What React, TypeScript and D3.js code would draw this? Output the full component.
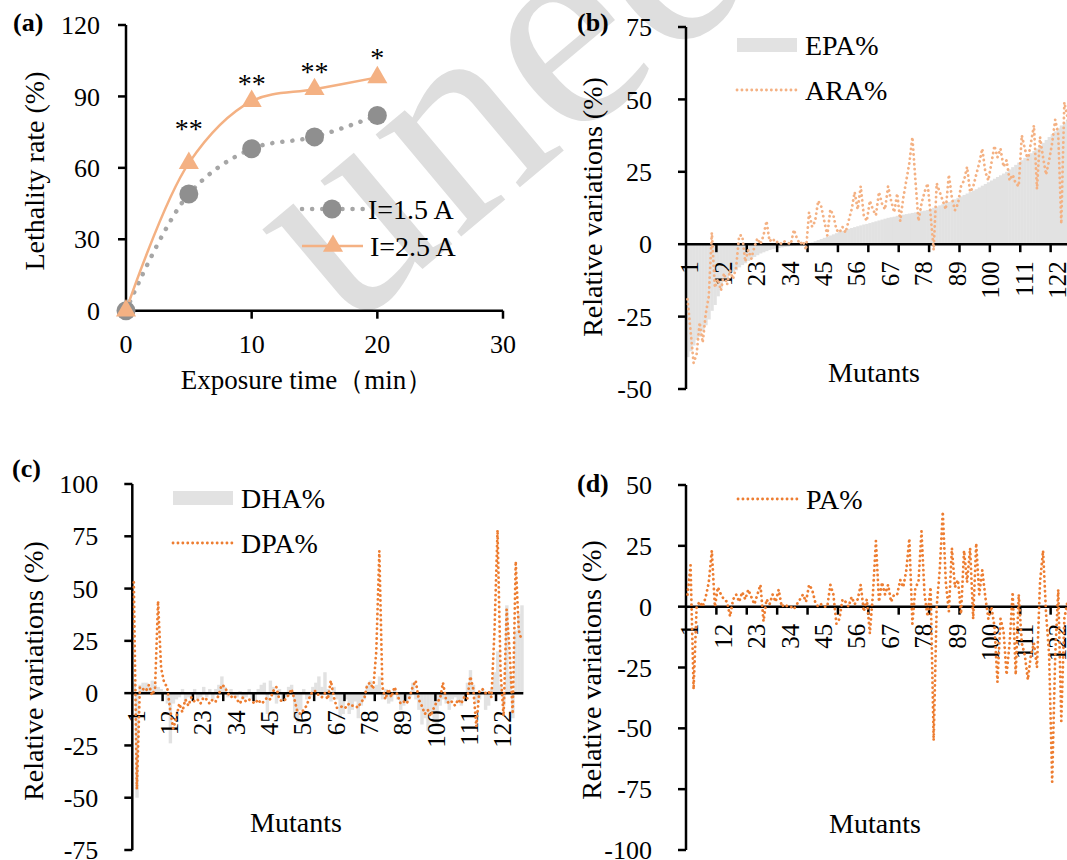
import React, { useEffect, useRef } from 'react';
import * as d3 from 'd3';

// (a) lethality rate vs exposure time
const exposureTimes = [0, 5, 10, 15, 20];
const lethal15 = [0, 49, 68, 73, 82];
const lethal25 = [0, 62, 88, 93, 98];
const starMarks = ['', '**', '**', '**', '*'];
const starLevels = [0, 78, 97, 102, 108];
const timeTicks = [0, 10, 20, 30];
const rateTicks = [0, 30, 60, 90, 120];

// (b)-(d) relative variations of 129 mutants
const mutantLabels = ['1', '12', '23', '34', '45', '56', '67', '78', '89', '100', '111', '122'];

const epa = [
  -39, -37, -35, -33, -32, -30, -28, -26, -23, -21,
  -18, -15, -13, -12, -10.5, -9.5, -9, -8, -7.2, -6.6,
  -5.8, -5, -4.4, -3.8, -3.2, -2.8, -2.4, -2, -1.7, -1.5,
  -1.3, -1.1, -0.9, -0.8, -0.6, -0.5, -0.4, -0.3, -0.2, -0.1,
  0.2, 0.6, 1, 1.4, 1.8, 2.2, 2.6, 3, 3.4, 3.8,
  4.2, 4.6, 5, 5.3, 5.6, 5.9, 6.2, 6.5, 6.8, 7,
  7.3, 7.6, 7.9, 8.2, 8.5, 8.8, 9.1, 9.3, 9.5, 9.8,
  10, 10.2, 10.4, 10.6, 10.8, 11, 11.2, 11.4, 11.6, 11.8,
  12.2, 12.6, 13, 13.4, 13.8, 14.2, 14.6, 15, 15.5, 16,
  16.5, 17, 17.5, 18, 18.5, 19, 19.6, 20.2, 20.8, 21.4,
  22, 22.6, 23.2, 23.8, 24.4, 25, 25.8, 26.6, 27.4, 28.2,
  29, 29.8, 30.6, 31.4, 32.2, 33, 34, 35, 36, 37,
  38, 39, 40, 41, 42, 43, 44, 45, 46,
];

const ara = [
  -19, -30, -41, -38, -27, -34, -24, -18, 4, -15,
  -12, -16, -10, -14, -9, -12, -8, 3, 3, -6,
  -2, -5, -1, 2, 0, 3, 8, 1, 2, 0.5,
  1, 0, 1, 0.5, 0, 5, 2, 0, 1, -2,
  11, 6, 8, 15, 13, 8, 3, 12, 10, 5,
  4, 6, 4, 8, 12, 18, 12, 20, 10, 8,
  15, 12, 10, 18, 14, 12, 20, 15, 11, 17.5,
  8, 16, 22, 28, 37, 22, 8, 14, 18, 21,
  10, -2, 21, 18, 15, 12, 24, 16, 11.7, 14,
  20, 22, 26.7, 18, 19.8, 24, 28, 33, 25, 22,
  28, 34, 30, 33, 26.7, 29, 22, 24, 21, 20,
  37.6, 33, 29, 35, 41, 19, 37, 30, 24, 29,
  35, 43, 38, 7, 49, 44, 38, 42, 45,
];

const dha = [
  5, -50, 4, 5, 5, 3, 6, 4, 3, 2,
  1, -5, -24, -5, -3, -2, 2, -4, -2, -3,
  2, -3, -2, 3, -2, 2, -3, 2, 4, 8,
  3, -2, 2, -1, -2, 1, -3, -2, 2, -3,
  -4, 2, 4, 5, -10, 6, 3, -5, 2, -3,
  -2, 3, 4, -12, -14, -8, 2, -3, -2, 3,
  5, 8, 3, 10, 2, -4, 3, -3, -12, -10,
  -3, -10, -8, -4, -12, -6, -3, 4, 6, 2,
  4, 8, -3, 2, -5, -4, 2, -3, -8, -6,
  -4, -2, 5, -3, -8, -15, -12, -18, -10, -14,
  -16, -6, -3, -5, -8, -3, -2, -4, -6, -3,
  5, 11, 4, -5, -3, 2, -8, -6, 2, 10,
  20, 4, -6, 42, 10, -12, 30, 38, 42,
];

const dpa = [
  53, -46, 3, 2, 1, 4, -1, 2, 44, 12,
  5, 3, -8, -17, -12, -5, -9, -3, -6, -2,
  -4, -3, -5, -2, -3, -5, -3, -4, -1, 4,
  3, 0, -2, -1, -3, -5, -2, -4, -3, -4,
  -5, -3, -5, -4, -2, -3, 1, 3, -3, -4,
  -3, -1, 2, -3, -9, -10, -8, -6, -2, 1,
  1, -1, -2, 0, -3, 6, -2, -7, -7, -6,
  -7, -5, -6, -6, -7, -4, -3, 4, 5, 2,
  20, 68, 3, -3, 2, -2, 3, -1, -5, -4,
  -5, -2, 3, 6, -3, -6, -10, -8, -11, -7,
  -4, -3, 5, -3, -5, -4, -6, -3, -5, -2,
  -3, 8, 2, -16, 1, 2, 0, 1, -2, 30,
  78, 10, -11, 40, 20, -10, 63, 30, 25,
];

const pa = [
  5, 17, -34, 0, 2, 0, 4, 10, 23, 0,
  8, 5, 3, 2, -4, 3, 5, 2, 6, 3,
  7, 4, 1, 5, 9, -6, 3, 1, 5, 2,
  7, 0, 1, 0, 0, -1, 1, 3, 5, 2,
  9, 7, 2, 0, 1, 0, 0, 9, 5, -7,
  -5, 3, 2, 0, 4, 1, 3, 9, -2, 3,
  -11, 5, 27, 2, 10, 5, 9, 2, 5, 5,
  11, 8, 15, 28, -7, 8, 10, 31, 5, -4,
  8, -55, 0, 15, 39, 10, -2, 24, 8, 11,
  -3, 23, 10, 24, -5, 26, 5, 15, 4, -5,
  0, -8, -31, -5, -10, -28, -15, 6, -28, 5,
  -15, -20, -30, -20, -15, -25, 10, 23, -3, -20,
  -72, -20, 7, -47, -5, 2, -15, -10, -5,
];

const mutants = epa.map((_, i) => i + 1);

const FONT = "'Liberation Serif', 'Times New Roman', serif";
const LIGHT = '#f4b183';
const DARK = '#ed7d31';
const GREY = '#e2e2e2';
const DOTS = '0.1 4.8';

function axisText(g, x, y, s, size, anchor = 'middle') {
  return g.append('text')
    .attr('x', x).attr('y', y)
    .attr('text-anchor', anchor)
    .style('font-family', FONT)
    .attr('font-size', size)
    .attr('fill', '#000')
    .text(s);
}

function drawLethality(svg) {
  const g = svg.append('g');
  const x = d3.scaleLinear().domain([0, 30]).range([126, 503]);
  const y = d3.scaleLinear().domain([0, 120]).range([310.7, 25]);

  // axes
  g.append('line').attr('x1', x(0)).attr('x2', x(0)).attr('y1', y(120)).attr('y2', y(0))
    .attr('stroke', '#000').attr('stroke-width', 2.5);
  g.append('line').attr('x1', x(0)).attr('x2', x(30)).attr('y1', y(0)).attr('y2', y(0))
    .attr('stroke', '#000').attr('stroke-width', 2.5);
  rateTicks.forEach(t => {
    g.append('line').attr('x1', x(0) - 8).attr('x2', x(0)).attr('y1', y(t)).attr('y2', y(t))
      .attr('stroke', '#000').attr('stroke-width', 2.5);
    axisText(g, 100, y(t), String(t), 26, 'end').attr('dy', '0.35em');
  });
  timeTicks.forEach(t => {
    g.append('line').attr('x1', x(t)).attr('x2', x(t)).attr('y1', y(0)).attr('y2', y(0) + 8)
      .attr('stroke', '#000').attr('stroke-width', 2.5);
    axisText(g, x(t), 353, String(t), 26);
  });
  axisText(g, 307, 389, 'Exposure time（min）', 27);
  axisText(g, 0, 0, 'Lethality rate (%)', 28)
    .attr('transform', 'translate(44,171) rotate(-90)');

  const line = d3.line<number>()
    .x((d, i) => x(exposureTimes[i]))
    .y(d => y(d))
    .curve(d3.curveCatmullRom.alpha(0.5));

  g.append('path').datum(lethal15).attr('d', line).attr('fill', 'none')
    .attr('stroke', '#a6a6a6').attr('stroke-width', 4.5)
    .attr('stroke-dasharray', '0.1 10').attr('stroke-linecap', 'round');
  g.append('path').datum(lethal25).attr('d', line).attr('fill', 'none')
    .attr('stroke', LIGHT).attr('stroke-width', 2.5);

  g.selectAll('circle.m15').data(lethal15).join('circle')
    .attr('cx', (d, i) => x(exposureTimes[i])).attr('cy', d => y(d))
    .attr('r', 9.5).attr('fill', '#8f8f8f');
  const tri = d3.symbol(d3.symbolTriangle, 175);
  g.selectAll('path.m25').data(lethal25).join('path')
    .attr('d', tri)
    .attr('transform', (d, i) => `translate(${x(exposureTimes[i])},${y(d)})`)
    .attr('fill', LIGHT);

  starMarks.forEach((s, i) => {
    if (!s) return;
    axisText(g, x(exposureTimes[i]), y(starLevels[i]) + 13, s, 28);
  });

  // legend
  g.append('line').attr('x1', 302).attr('x2', 363).attr('y1', 209).attr('y2', 209)
    .attr('stroke', '#a6a6a6').attr('stroke-width', 4.5)
    .attr('stroke-dasharray', '0.1 10').attr('stroke-linecap', 'round');
  g.append('circle').attr('cx', 332).attr('cy', 209).attr('r', 9.5).attr('fill', '#8f8f8f');
  axisText(g, 368, 209, 'I=1.5 A', 28, 'start').attr('dy', '0.35em');
  g.append('line').attr('x1', 302).attr('x2', 363).attr('y1', 246).attr('y2', 246)
    .attr('stroke', LIGHT).attr('stroke-width', 2.5);
  g.append('path').attr('d', tri).attr('transform', 'translate(333,246)').attr('fill', LIGHT);
  axisText(g, 370, 246, 'I=2.5 A', 28, 'start').attr('dy', '0.35em');

  axisText(g, 13, 31, '(a)', 26, 'start').attr('font-weight', 'bold');
}

function drawMutants(svg, c) {
  const g = svg.append('g');
  const x = d3.scaleBand<number>().domain(mutants).range([c.left, c.left + c.width]).padding(0);
  const y = d3.scaleLinear().domain(c.domain).range([c.bottom, c.top]);
  const y0 = y(0);

  if (c.bars) {
    g.append('g').selectAll('rect').data(c.bars).join('rect')
      .attr('x', (d, i) => x(mutants[i]))
      .attr('width', x.bandwidth() + 0.4)
      .attr('y', d => Math.min(y(d), y0))
      .attr('height', d => Math.abs(y(d) - y0))
      .attr('fill', GREY);
  }

  // y axis
  g.append('line').attr('x1', c.left).attr('x2', c.left).attr('y1', c.top).attr('y2', c.bottom)
    .attr('stroke', '#000').attr('stroke-width', 2.5);
  c.ticks.forEach(t => {
    g.append('line').attr('x1', c.left - 8).attr('x2', c.left).attr('y1', y(t)).attr('y2', y(t))
      .attr('stroke', '#000').attr('stroke-width', 2.5);
    axisText(g, c.left - 34, y(t), String(t), 26, 'end').attr('dy', '0.35em');
  });

  // x axis
  g.append('line').attr('x1', c.left).attr('x2', c.left + c.width).attr('y1', y0).attr('y2', y0)
    .attr('stroke', '#000').attr('stroke-width', 2.5);
  d3.range(10, mutants.length, 10).forEach(k => {
    const xx = c.left + k * x.step();
    g.append('line').attr('x1', xx).attr('x2', xx).attr('y1', y0).attr('y2', y0 + 8)
      .attr('stroke', '#000').attr('stroke-width', 2.5);
  });
  mutantLabels.forEach(l => {
    const xx = x(Number(l)) + x.bandwidth() / 2 + 2;
    axisText(g, 0, 0, l, 25, 'end').attr('dy', '0.35em')
      .attr('transform', `translate(${xx},${y0 + 17}) rotate(-90)`);
  });

  const line = d3.line<number>()
    .x((d, i) => x(mutants[i]) + x.bandwidth() / 2)
    .y(d => y(d));
  g.append('path').datum(c.line).attr('d', line).attr('fill', 'none')
    .attr('stroke', c.color).attr('stroke-width', 2.8)
    .attr('stroke-dasharray', DOTS).attr('stroke-linecap', 'round');

  // titles
  axisText(g, c.mutantsX, c.mutantsY, 'Mutants', 28);
  axisText(g, 0, 0, 'Relative variations (%)', 28)
    .attr('transform', `translate(${c.titleX},${c.titleY}) rotate(-90)`);
  axisText(g, c.tagX, c.tagY, c.tag, 26, 'start').attr('font-weight', 'bold');

  // legend
  let ly = c.legendY;
  if (c.barName) {
    g.append('rect').attr('x', c.legendX).attr('y', ly - 7).attr('width', 60).attr('height', 14)
      .attr('fill', GREY);
    axisText(g, c.legendX + 68, ly, c.barName, 28, 'start').attr('dy', '0.35em');
    ly += 45;
  }
  g.append('line').attr('x1', c.legendX).attr('x2', c.legendX + 60).attr('y1', ly).attr('y2', ly)
    .attr('stroke', c.color).attr('stroke-width', 2.8)
    .attr('stroke-dasharray', DOTS).attr('stroke-linecap', 'round');
  axisText(g, c.legendX + 68, ly, c.lineName, 28, 'start').attr('dy', '0.35em');
}

export default function App() {
  const svgRef = useRef<SVGSVGElement>(null);

  useEffect(() => {
    const svg = d3.select(svgRef.current);
    svg.selectAll('*').remove();
    svg.append('rect').attr('width', 1067).attr('height', 860).attr('fill', '#fff');

    // watermark
    svg.append('text').attr('transform', 'translate(345,334) rotate(-40)')
      .style('font-family', FONT).attr('font-size', 290).attr('fill', '#dedede')
      .text('unedited');

    drawLethality(svg);

    drawMutants(svg, {
      left: 686, width: 392, top: 27, bottom: 389, domain: [-50, 75],
      ticks: [-50, -25, 0, 25, 50, 75],
      bars: epa, line: ara, color: LIGHT, barName: 'EPA%', lineName: 'ARA%',
      legendX: 737, legendY: 45,
      mutantsX: 874, mutantsY: 382, titleX: 602, titleY: 207,
      tag: '(b)', tagX: 577, tagY: 31,
    });
    drawMutants(svg, {
      left: 132.3, width: 391, top: 484, bottom: 850, domain: [-75, 100],
      ticks: [-75, -50, -25, 0, 25, 50, 75, 100],
      bars: dha, line: dpa, color: DARK, barName: 'DHA%', lineName: 'DPA%',
      legendX: 173, legendY: 498,
      mutantsX: 296, mutantsY: 832, titleX: 43, titleY: 671,
      tag: '(c)', tagX: 12, tagY: 477,
    });
    drawMutants(svg, {
      left: 686, width: 392, top: 485, bottom: 850, domain: [-100, 50],
      ticks: [-100, -75, -50, -25, 0, 25, 50],
      bars: null, line: pa, color: DARK, barName: null, lineName: 'PA%',
      legendX: 738, legendY: 499,
      mutantsX: 875, mutantsY: 833, titleX: 601, titleY: 670,
      tag: '(d)', tagX: 577, tagY: 492,
    });
  }, []);

  return (
    <svg ref={svgRef} width={1067} height={860}
      style={{ position: 'absolute', left: 0, top: 0 }} />
  );
}
